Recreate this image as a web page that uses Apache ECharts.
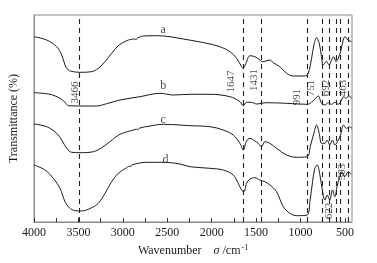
<!DOCTYPE html>
<html>
<head>
<meta charset="utf-8">
<script src="https://cdn.jsdelivr.net/npm/echarts@6/dist/echarts.min.js"></script>
<style>
  html, body { margin: 0; padding: 0; background: #fff; }
  #chart { width: 377px; height: 263px; }
</style>
</head>
<body>
<div id="chart"></div>
<script>
// wavenumber (cm-1), relative transmittance (arbitrary offset units)
var curveA = [
  [4000,185.3],[3857,182],[3745,175.3],[3688,167],[3651,157],[3614,152],[3557,150.3],
  [3482,149.7],[3351,150.3],[3276,153.7],[3200,160.3],[3126,168.7],[3051,176.3],[2957,181.3],
  [2870,183],[2850,182.4],[2835,184],[2769,186],[2619,186.3],[2469,185.3],[2320,183],
  [2188,181],[2056,178.7],[1907,175.3],[1794,170.3],[1719,163.7],[1663,155.3],[1645,153.7],
  [1614,158.7],[1569,166.3],[1513,165.3],[1457,162],[1427,160.3],[1389,161],[1344,162],
  [1307,159.3],[1232,155.3],[1156,148.7],[1081,146],[950,146],[913,148.7],[875,163.7],
  [849,177],[819,184.3],[789,178.7],[763,165.3],[745,157],[707,160.3],[677,157],[650,162],
  [624,165.3],[601,160.3],[575,163.7],[549,170.3],[519,182],[500,185.3],[463,182],[425,180.3]
];
var curveB = [
  [4000,129.3],[3820,127.7],[3707,123.7],[3651,119.7],[3614,116.3],[3482,116],[3294,116],
  [3182,118.3],[3032,122],[2807,125.3],[2582,128.7],[2432,127],[2244,127.7],[2019,127.7],
  [1794,125.3],[1682,120.3],[1645,116.3],[1607,119.7],[1551,119.7],[1494,118],[1438,118.7],
  [1382,119.3],[1156,118.7],[925,117.7],[875,119.7],[826,124.3],[800,126],[763,118.7],
  [725,117],[687,119.3],[650,117.7],[613,119.7],[575,117.7],[538,122],[515,125.3],[484,123.7],
  [456,126.3],[425,123.7]
];
var curveC = [
  [4000,98],[3857,95.3],[3745,88.7],[3688,82],[3632,73.7],[3576,69.7],[3482,69.3],[3332,70.3],
  [3238,74.3],[3145,80.3],[3032,87.7],[2882,92],[2845,92.8],[2832,92.2],[2815,93.8],[2694,96],
  [2545,97.7],[2357,97],[2244,96.3],[2019,95.3],[1870,92],[1757,87],[1682,78.7],[1645,72],
  [1607,81],[1569,83.7],[1513,81],[1476,78.7],[1438,75.3],[1401,80.3],[1344,78.7],[1269,73.7],
  [1156,67],[1044,64.7],[925,65.3],[886,77],[849,88.7],[819,97],[789,88.7],[763,78.7],[725,78.7],
  [699,82],[670,77],[640,82],[613,77],[575,82],[549,87],[515,97],[484,93.7],[444,95.3],[425,93.7]
];
var curveD = [
  [4000,57],[3876,52],[3783,43.7],[3707,33.7],[3651,20.3],[3602,14.3],[3539,11.3],[3463,11],
  [3351,14.3],[3276,18.7],[3200,28.7],[3126,40.3],[3051,48.7],[2957,54.3],[2925,55.8],[2910,55.4],
  [2895,57.2],[2732,59.7],[2545,59.7],[2357,58],[2244,55.3],[2019,53.7],[1870,52],[1757,47],
  [1701,38.7],[1663,32],[1637,30.3],[1607,38.7],[1569,43],[1513,44.3],[1457,42],[1401,40.3],
  [1344,37],[1269,30.3],[1194,15.3],[1119,8.7],[1044,6.3],[925,7],[894,20.3],[864,40.3],
  [838,53.7],[812,57],[781,47],[751,30.3],[725,22],[699,27],[670,22],[640,32],[613,25.3],
  [588,35.3],[563,43.7],[533,50.3],[500,45.3],[463,50.3],[425,47.7]
];

var peakLines = [3490, 1645, 1438, 924, 751, 677, 601, 549, 463];
var peakLabels = [
  [3540,129.5,'3466'],[1783,140.5,'1647'],[1524,142,'1431'],[1040,125,'991'],
  [877,134,'751'],[714,134,'692'],[523,134,'463'],[680,11,'622'],[534,50,'503']
];
var curveNames = [[2545,192,'a'],[2545,136.3,'b'],[2545,102,'c'],[2520,62,'d']];

var xLabelValues = [500,1000,1500,2000,2500,3000,3500,4000];
var xTickValues = [500,750,1000,1250,1500,1750,2000,2250,2500,2750,3000,3250,3500,3750,4000];

var font = "'Liberation Serif', 'DejaVu Serif', serif";
var ink = '#1a1a1a';
var frame = '#8a8a8a';

var chart = echarts.init(document.getElementById('chart'), null, { renderer: 'canvas' });

function lineSeries(name, data) {
  return {
    name: name,
    type: 'line',
    data: data,
    smooth: 0.35,
    symbol: 'none',
    silent: true,
    lineStyle: { color: ink, width: 1 }
  };
}

chart.setOption({
  animation: false,
  backgroundColor: '#fff',
  textStyle: { fontFamily: font },
  grid: { left: 34, right: 25, top: 15, bottom: 41, show: true, borderColor: frame, borderWidth: 1 },
  xAxis: {
    type: 'value',
    min: 420,
    max: 4000,
    inverse: true,
    name: '{n|Wavenumber}    {s|σ}{n| /cm}{u|-1}',
    nameLocation: 'middle',
    nameGap: 21,
    nameTextStyle: {
      rich: {
        n: { fontFamily: font, fontSize: 12, color: ink },
        s: { fontFamily: font, fontSize: 12, fontStyle: 'italic', color: ink },
        u: { fontFamily: font, fontSize: 8, color: ink, verticalAlign: 'top', padding: [0, 0, 6, 1] }
      }
    },
    axisLine: { lineStyle: { color: frame } },
    axisTick: { inside: true, length: 4, customValues: xTickValues, lineStyle: { color: '#333' } },
    axisLabel: {
      customValues: xLabelValues,
      color: ink,
      fontSize: 12,
      fontFamily: font,
      margin: 5,
      formatter: function(v) { return String(v); }
    },
    splitLine: { show: false }
  },
  yAxis: {
    type: 'value',
    min: 0,
    max: 207,
    name: 'Transmittance (%)',
    nameLocation: 'middle',
    nameGap: 14,
    nameTextStyle: { color: ink, fontSize: 12, fontFamily: font },
    axisLine: { show: true, lineStyle: { color: frame } },
    axisTick: { show: false },
    axisLabel: { show: false },
    splitLine: { show: false }
  },
  series: [
    lineSeries('a', curveA),
    lineSeries('b', curveB),
    lineSeries('c', curveC),
    lineSeries('d', curveD),
    {
      name: 'peaks',
      type: 'line',
      data: [],
      silent: true,
      markLine: {
        symbol: 'none',
        silent: true,
        label: { show: false },
        lineStyle: { color: '#222', width: 1.1, type: [5, 4] },
        data: peakLines.map(function(v) { return { xAxis: v }; })
      }
    },
    {
      name: 'peakLabels',
      type: 'scatter',
      symbolSize: 0,
      silent: true,
      data: peakLabels,
      label: {
        show: true,
        position: 'inside',
        rotate: 90,
        color: ink,
        fontSize: 11,
        fontFamily: font,
        formatter: function(p) { return p.value[2]; }
      }
    },
    {
      name: 'curveNames',
      type: 'scatter',
      symbolSize: 0,
      silent: true,
      data: curveNames,
      label: {
        show: true,
        position: 'inside',
        color: ink,
        fontSize: 12,
        fontFamily: font,
        formatter: function(p) { return p.value[2]; }
      }
    }
  ]
});

window.addEventListener('resize', function() { chart.resize(); });
</script>
</body>
</html>
